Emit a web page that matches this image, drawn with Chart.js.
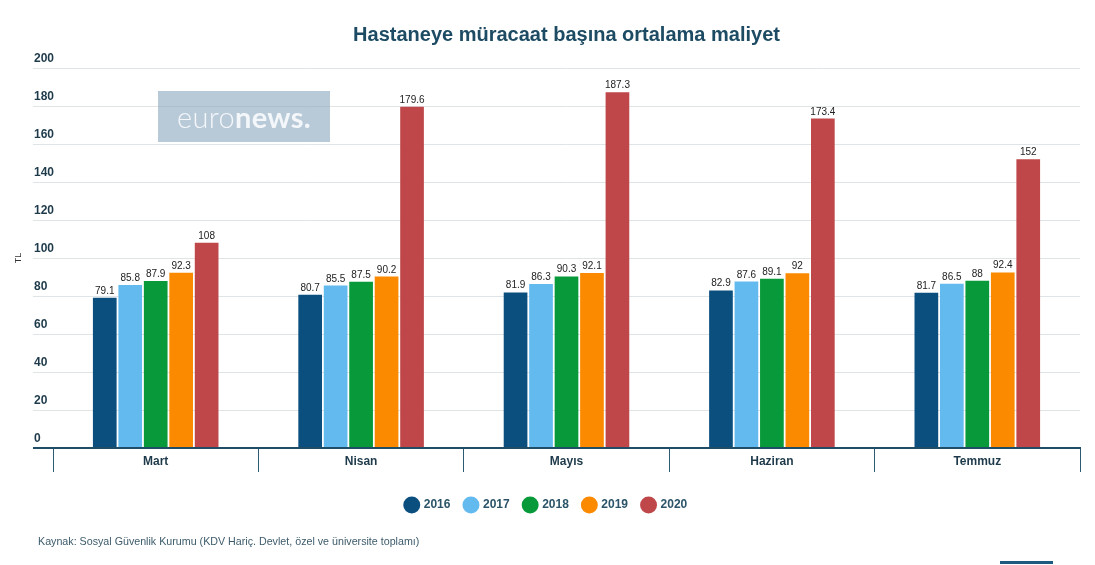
<!DOCTYPE html>
<html>
<head>
<meta charset="utf-8">
<script src="https://cdn.jsdelivr.net/npm/chart.js@4.4.1/dist/chart.umd.min.js"></script>
<style>
  html, body { margin: 0; padding: 0; background: #ffffff; }
  #wrap { position: relative; width: 1095px; height: 565px; overflow: hidden; background: #fff; }
  #c { position: absolute; left: 0; top: 0; }
  #logo { position: absolute; left: 158px; top: 91px; width: 172px; height: 51px;
          background: rgba(150,175,198,0.68); color: #f4f7fa; font-family: "Lato", "Open Sans", sans-serif;
          font-size: 29px; line-height: 51px; text-align: center; letter-spacing: 0.3px; }
  #logo .a { font-weight: 300; }
  #logo .b { font-weight: 700; }
  #footer { position: absolute; left: 38px; top: 535px; font-family: "Liberation Sans", Arial, sans-serif;
            font-size: 10.7px; color: #3d5b6b; white-space: nowrap; }
  #bline { position: absolute; left: 1000px; top: 561px; width: 53px; height: 3px; background: #1f5a80; }
</style>
</head>
<body>
<div id="wrap">
  <canvas id="c" width="1095" height="565"></canvas>
  <div id="logo"><span class="a">euro</span><span class="b">news.</span></div>
  <div id="footer">Kaynak: Sosyal Güvenlik Kurumu (KDV Hariç. Devlet, özel ve üniversite toplamı)</div>
  <div id="bline"></div>
</div>
<script>
const chartTitle = 'Hastaneye müracaat başına ortalama maliyet';
const categories = ['Mart', 'Nisan', 'Mayıs', 'Haziran', 'Temmuz'];
const seriesNames = ['2016', '2017', '2018', '2019', '2020'];
const values2016 = [79.1, 80.7, 81.9, 82.9, 81.7];
const values2017 = [85.8, 85.5, 86.3, 87.6, 86.5];
const values2018 = [87.9, 87.5, 90.3, 89.1, 88];
const values2019 = [92.3, 90.2, 92.1, 92, 92.4];
const values2020 = [108, 179.6, 187.3, 173.4, 152];
const yMin = 0, yMax = 200, yStep = 20;
const yAxisTitle = 'TL';

const seriesValues = [values2016, values2017, values2018, values2019, values2020];
const seriesColors = ['#0b4f7f', '#62baef', '#07993a', '#fb8a00', '#bf474a'];

const FONT = '"Liberation Sans", Arial, sans-serif';
const axisColor = '#1f4d66';
const gridColor = '#dfe4e7';
const labelColor = '#1e3a4a';

const dataLabels = {
  id: 'dataLabels',
  afterDatasetsDraw(chart) {
    const ctx = chart.ctx;
    ctx.save();
    ctx.font = '10px ' + FONT;
    ctx.fillStyle = '#222';
    ctx.textAlign = 'center';
    ctx.textBaseline = 'alphabetic';
    chart.data.datasets.forEach((ds, di) => {
      const meta = chart.getDatasetMeta(di);
      meta.data.forEach((bar, i) => {
        ctx.fillText(String(ds.data[i]), bar.x, bar.y - 4);
      });
    });
    ctx.restore();
  }
};

new Chart(document.getElementById('c'), {
  type: 'bar',
  data: {
    labels: categories,
    datasets: seriesNames.map((name, i) => ({
      label: name,
      data: seriesValues[i],
      backgroundColor: seriesColors[i],
      borderWidth: 0,
      categoryPercentage: 0.62,
      barPercentage: 0.93
    }))
  },
  options: {
    responsive: false,
    animation: false,
    devicePixelRatio: 1,
    layout: { padding: { left: 13, right: 15, top: 0, bottom: 44 } },
    plugins: {
      title: {
        display: true,
        text: chartTitle,
        fullSize: false,
        color: '#1d4b63',
        font: { family: FONT, size: 20, weight: 'bold' },
        padding: { top: 23, bottom: 21 }
      },
      legend: {
        position: 'bottom',
        labels: {
          usePointStyle: true,
          pointStyle: 'circle',
          boxWidth: 12,
          boxHeight: 12,
          padding: 14.5,
          color: '#2b5468',
          font: { family: FONT, size: 12, weight: 'bold' }
        }
      },
      tooltip: { enabled: false }
    },
    scales: {
      x: {
        grid: {
          offset: true,
          drawOnChartArea: false,
          drawTicks: true,
          tickLength: 24,
          color: '#2b5a73',
          lineWidth: 1
        },
        border: { display: true, color: axisColor, width: 2 },
        ticks: {
          color: labelColor,
          padding: -18,
          font: { family: FONT, size: 12, weight: 'bold' }
        },
        afterFit(scale) { scale.height = 36.5; }
      },
      y: {
        min: yMin,
        max: yMax,
        border: { display: false },
        grid: {
          drawTicks: true,
          tickLength: 20,
          color: (c) => (c.tick && c.tick.value === 0) ? axisColor : gridColor,
          lineWidth: (c) => (c.tick && c.tick.value === 0) ? 2 : 1
        },
        ticks: {
          stepSize: yStep,
          mirror: true,
          padding: -19,
          labelOffset: -9,
          color: labelColor,
          font: { family: FONT, size: 12, weight: 'bold' }
        },
        title: {
          display: true,
          text: yAxisTitle,
          color: '#333',
          padding: 0,
          font: { family: FONT, size: 9 }
        },
        afterFit(scale) { scale.width = 40; }
      }
    }
  },
  plugins: [dataLabels]
});
</script>
</body>
</html>
